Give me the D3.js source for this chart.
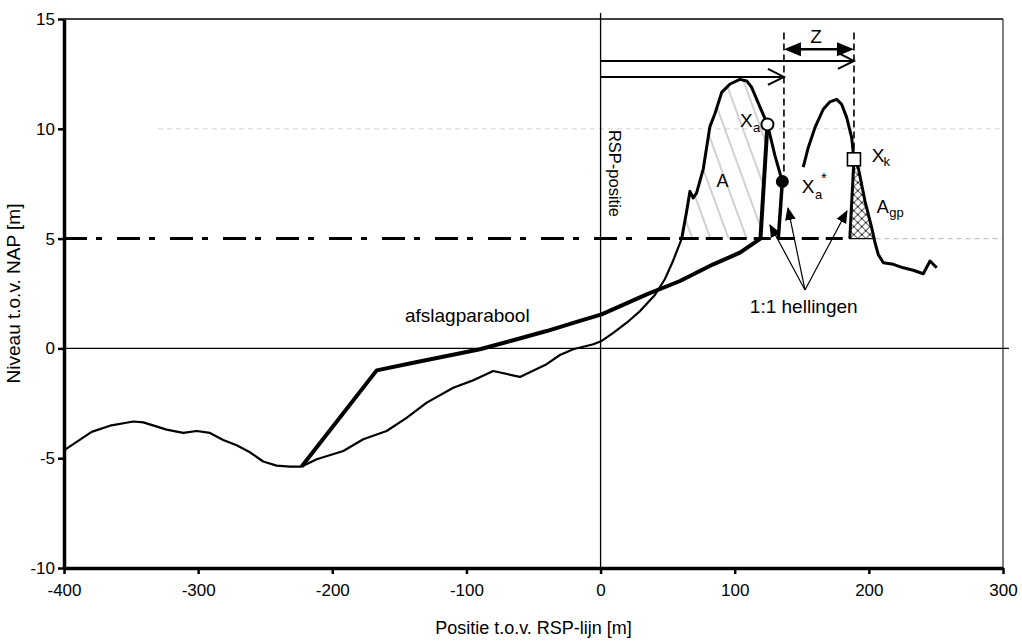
<!DOCTYPE html>
<html><head><meta charset="utf-8">
<script src="https://cdn.jsdelivr.net/npm/d3@7"></script>
<style>
body{margin:0;background:#fff}
svg{display:block}
text{font-family:"Liberation Sans",Arial,sans-serif;fill:#000}
</style>
</head><body>
<svg id="c" width="1022" height="641"></svg>
<script>
// ---------- data ----------
const xTicks = [-400,-300,-200,-100,0,100,200,300];
const yTicks = [-10,-5,0,5,10,15];

// measured profile (seaward of the dune), thin line
const profileX = [-400,-379.4,-365.7,-348.3,-340.9,-323.5,-311.1,-301.1,-291.2,-281.3,-271.3,-261.4,-251.5,-241.5,-231.6,-222.8,-211.6,-191.8,-176.9,-159.5,-144.6,-129.6,-109.8,-96.1,-80.0,-60.1,-40.2,-30.3,-20.4,-5.4,0.8,9.5,19.5,29.4,40.5,48.0,54.0,60.5];
const profileY = [-4.64,-3.80,-3.52,-3.33,-3.37,-3.70,-3.85,-3.76,-3.85,-4.17,-4.41,-4.73,-5.15,-5.34,-5.38,-5.38,-5.05,-4.67,-4.14,-3.76,-3.16,-2.47,-1.79,-1.48,-1.03,-1.30,-0.72,-0.30,-0.04,0.19,0.34,0.71,1.17,1.70,2.43,3.16,3.98,5.0];

// first dune (bold), from the 5 m level to Xa*
const duneAX = [60.5,64.2,66.6,69.1,71.6,76.6,81.5,85.3,90.3,96.5,103.9,108.9,112.6,118.8,124.4,130.0,135.5];
const duneAY = [5.0,6.26,7.15,6.85,7.08,8.19,10.1,10.7,11.66,12.04,12.25,12.18,11.89,11.0,10.2,8.78,7.6];

// second dune (bold) and landward tail
const duneBX = [151.1,154.8,159.8,166.0,171.0,176.0,179.7,183.5,187.2,188.9,192.1,197.1,202.1,204.6,207.0,210.8,218.2,225.7,233.1,240.6,245.6,250.6];
const duneBY = [8.26,9.14,10.05,10.89,11.23,11.34,11.12,10.51,9.6,8.61,8.23,6.71,5.5,4.81,4.28,3.90,3.83,3.67,3.56,3.40,3.98,3.67];

// erosion profile (afslagparabool) ending in the 1:1 slope up to Xa
const paraX = [-222.8,-166.9,-139.6,-114.7,-89.9,-65.1,-40.2,-15.4,0.8,34.4,59.2,84.0,103.9,119.2,124.4];
const paraY = [-5.38,-1.0,-0.65,-0.35,-0.04,0.37,0.79,1.25,1.55,2.46,3.07,3.83,4.36,5.0,10.2];

// 1:1 slope below Xa*
const slope2X = [132.5,135.5];
const slope2Y = [5.0,7.6];

// 1:1 slope of the boundary profile below Xk
const gpSlopeX = [185.8,188.9];
const gpSlopeY = [5.0,8.61];

// characteristic points
const pointNames = ["Xa","Xa*","Xk"];
const pointX = [124.4,135.5,188.9];
const pointY = [10.2,7.6,8.61];

const level = 5;          // reference level NAP +5 m
const xaStarLine = 136.7; // dashed vertical through Xa*
const xkLine = 188.9;     // dashed vertical through Xk
const arrowLevels = [13.09,12.36]; // horizontal arrows from RSP
const zLevel = 13.62;
const dashTop = 14.38;

// "1:1 hellingen" pointer lines
const pointerOrigin = [152.4,2.66];
const pointerTipsX = [126.3,139.7,183.7];
const pointerTipsY = [5.62,6.39,6.26];

// ---------- scales ----------
const svg = d3.select("#c");
const x = d3.scaleLinear().domain([-400,300]).range([64,1003]);
const y = d3.scaleLinear().domain([-10,15]).range([568,19]);
const zip = (xs,ys)=>xs.map((v,i)=>[v,ys[i]]);
const line = d3.line().x(d=>x(d[0])).y(d=>y(d[1]));

svg.append("rect").attr("width",1022).attr("height",641).attr("fill","#fff");

const defs = svg.append("defs");
const hatch = defs.append("pattern").attr("id","hatchA").attr("patternUnits","userSpaceOnUse")
  .attr("width",17).attr("height",17).attr("patternTransform","rotate(-20)");
hatch.append("line").attr("x1",8).attr("y1",0).attr("x2",8).attr("y2",17)
  .attr("stroke","#8a8a8a").attr("stroke-width",0.8);
const cross = defs.append("pattern").attr("id","cross").attr("patternUnits","userSpaceOnUse")
  .attr("width",8).attr("height",8).attr("x",x(185.8)).attr("y",y(5));
cross.append("path").attr("d","M0,0L8,8M8,0L0,8").attr("stroke","#000").attr("stroke-width",0.9);
defs.append("marker").attr("id","tri").attr("viewBox","0 0 12 10").attr("refX",11).attr("refY",5)
  .attr("markerWidth",13).attr("markerHeight",11).attr("markerUnits","userSpaceOnUse").attr("orient","auto")
  .append("path").attr("d","M0,0L12,5L0,10Z").attr("fill","#000");

// faint grid remnants
svg.append("line").attr("x1",x(-330)).attr("x2",x(300)).attr("y1",y(10)).attr("y2",y(10))
  .attr("stroke","#d4d4d4").attr("stroke-width",1).attr("stroke-dasharray","5,4");
svg.append("line").attr("x1",x(205)).attr("x2",x(300)).attr("y1",y(level)).attr("y2",y(level))
  .attr("stroke","#c4c4c4").attr("stroke-width",1.2).attr("stroke-dasharray","5,4");

// hatched areas
const areaA = zip(duneAX.slice(0,15), duneAY.slice(0,15)).concat([[119.2,level]]);
svg.append("path").attr("d",line(areaA)+"Z").attr("fill","url(#hatchA)");
const areaGp = [[gpSlopeX[0],level],[gpSlopeX[1],gpSlopeY[1]]]
  .concat(zip(duneBX.slice(10,13),duneBY.slice(10,13))).concat([[203.9,level]]);
svg.append("path").attr("d",line(areaGp)+"Z").attr("fill","url(#cross)").attr("stroke","#000").attr("stroke-width",1.2);

// frame
svg.append("line").attr("x1",x(-400)).attr("x2",x(300)).attr("y1",y(15)).attr("y2",y(15)).attr("stroke","#000").attr("stroke-width",1.3);
svg.append("line").attr("x1",x(300)).attr("x2",x(300)).attr("y1",y(15)).attr("y2",y(-10)).attr("stroke","#000").attr("stroke-width",1);
// zero lines
svg.append("line").attr("x1",x(-400)).attr("x2",x(300)+6).attr("y1",y(0)).attr("y2",y(0)).attr("stroke","#000").attr("stroke-width",1.3);
svg.append("line").attr("x1",x(0)).attr("x2",x(0)).attr("y1",y(15)-6).attr("y2",y(-10)).attr("stroke","#000").attr("stroke-width",1.3);

// reference level 5 m
svg.append("line").attr("x1",x(-400)).attr("x2",x(60.5)).attr("y1",y(level)).attr("y2",y(level))
  .attr("stroke","#000").attr("stroke-width",3).attr("stroke-dasharray","23,9,6,15");
svg.append("line").attr("x1",x(60.5)).attr("x2",x(185.8)).attr("y1",y(level)).attr("y2",y(level))
  .attr("stroke","#000").attr("stroke-width",3).attr("stroke-dasharray","17,7");

// profile lines
svg.append("path").attr("d",line(zip(profileX,profileY))).attr("fill","none").attr("stroke","#000").attr("stroke-width",2.2).attr("stroke-linejoin","round");
svg.append("path").attr("d",line(zip(duneAX,duneAY))).attr("fill","none").attr("stroke","#000").attr("stroke-width",3).attr("stroke-linejoin","round");
svg.append("path").attr("d",line(zip(duneBX,duneBY))).attr("fill","none").attr("stroke","#000").attr("stroke-width",3).attr("stroke-linejoin","round");
svg.append("path").attr("d",line(zip(paraX,paraY))).attr("fill","none").attr("stroke","#000").attr("stroke-width",4).attr("stroke-linejoin","round");
svg.append("path").attr("d",line(zip(slope2X,slope2Y))).attr("fill","none").attr("stroke","#000").attr("stroke-width",3.5);
svg.append("path").attr("d",line(zip(gpSlopeX,gpSlopeY))).attr("fill","none").attr("stroke","#000").attr("stroke-width",3);

// dashed verticals
[[xaStarLine,7.9],[xkLine,pointY[2]]].forEach(([vx,vb])=>{
  svg.append("line").attr("x1",x(vx)).attr("x2",x(vx)).attr("y1",y(dashTop)).attr("y2",y(vb))
    .attr("stroke","#000").attr("stroke-width",1.6).attr("stroke-dasharray","7,4");
});

// horizontal arrows from RSP
const arrowEnds = [xkLine, xaStarLine];
arrowLevels.forEach((lv,i)=>{
  const x0=x(0), x1=x(arrowEnds[i]), yy=y(lv);
  svg.append("line").attr("x1",x0).attr("x2",x1).attr("y1",yy).attr("y2",yy).attr("stroke","#000").attr("stroke-width",2);
  svg.append("path").attr("d",`M${x1-16},${yy-8}L${x1},${yy}L${x1-16},${yy+8}`).attr("fill","none").attr("stroke","#000").attr("stroke-width",2);
});
// Z double arrow
{
  const a=x(xaStarLine), b=x(xkLine), yy=y(zLevel);
  svg.append("line").attr("x1",a+10).attr("x2",b-10).attr("y1",yy).attr("y2",yy).attr("stroke","#000").attr("stroke-width",2.5);
  svg.append("path").attr("d",`M${a},${yy}L${a+17},${yy-7}L${a+17},${yy+7}Z`).attr("fill","#000");
  svg.append("path").attr("d",`M${b},${yy}L${b-17},${yy-7}L${b-17},${yy+7}Z`).attr("fill","#000");
}

// pointer lines for 1:1 slopes
pointerTipsX.forEach((tx,i)=>{
  svg.append("line").attr("x1",x(pointerOrigin[0])).attr("y1",y(pointerOrigin[1]))
    .attr("x2",x(tx)).attr("y2",y(pointerTipsY[i])).attr("stroke","#000").attr("stroke-width",1.2)
    .attr("marker-end","url(#tri)");
});

// points
svg.append("circle").attr("cx",x(pointX[0])).attr("cy",y(pointY[0])).attr("r",6).attr("fill","#fff").attr("stroke","#000").attr("stroke-width",2);
svg.append("circle").attr("cx",x(pointX[1])).attr("cy",y(pointY[1])).attr("r",6.5).attr("fill","#000");
svg.append("rect").attr("x",x(pointX[2])-6.5).attr("y",y(pointY[2])-6.5).attr("width",13).attr("height",13).attr("fill","#fff").attr("stroke","#000").attr("stroke-width",1.6);

// ---------- axes ----------
const yAxis = svg.append("g").attr("transform",`translate(${x(-400)},0)`)
  .call(d3.axisLeft(y).tickValues(yTicks).tickSize(6).tickSizeOuter(0).tickPadding(3).tickFormat(d=>String(d)));
const xAxis = svg.append("g").attr("transform",`translate(0,${y(-10)})`)
  .call(d3.axisBottom(x).tickValues(xTicks).tickSize(6).tickSizeOuter(0).tickPadding(10).tickFormat(d=>String(d)));
[yAxis,xAxis].forEach(g=>{
  g.select(".domain").attr("stroke","#000").attr("stroke-width",3.5);
  g.selectAll(".tick line").attr("stroke","#000").attr("stroke-width",2.5);
  g.selectAll(".tick text").attr("font-size",17).attr("font-family","Liberation Sans, Arial, sans-serif").attr("fill","#000");
});

svg.append("text").attr("x",(x(-400)+x(300))/2).attr("y",634).attr("text-anchor","middle").attr("font-size",18)
  .text("Positie t.o.v. RSP-lijn [m]");
svg.append("text").attr("transform",`translate(20,${(y(15)+y(-10))/2}) rotate(-90)`).attr("text-anchor","middle").attr("font-size",19)
  .text("Niveau t.o.v. NAP [m]");

// ---------- annotations ----------
const lab = (tx,ty,str,size)=>svg.append("text").attr("x",x(tx)).attr("y",y(ty)).attr("font-size",size).text(str);
svg.append("text").attr("transform",`translate(${x(6.3)},${y(9.95)}) rotate(90)`).attr("font-size",16.5).text("RSP-positie");
lab(-145.8,1.22,"afslagparabool",19);
lab(111.3,1.62,"1:1 hellingen",19);
lab(160.6,13.9,"Z",19).attr("text-anchor","middle");
lab(86.5,7.36,"A",18);
lab(205.8,6.16,"A",18); lab(215.2,5.99,"gp",13);
lab(103.9,10.1,"X",19); lab(113.6,9.86,"a",13);
lab(150.0,7.07,"X",19); lab(159.8,6.81,"a",13); lab(164.3,7.54,"*",15);
lab(202.1,8.51,"X",19); lab(210.9,8.31,"k",13);
</script>
</body></html>
